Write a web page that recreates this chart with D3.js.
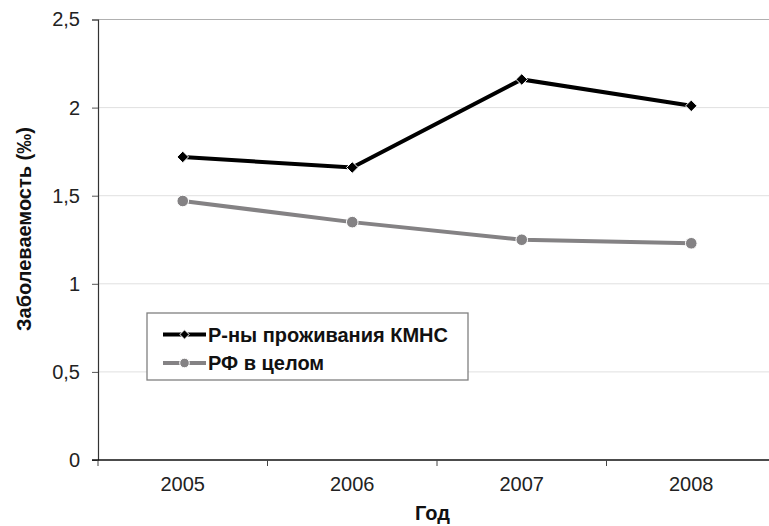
<!DOCTYPE html>
<html><head><meta charset="utf-8">
<script src="https://cdn.jsdelivr.net/npm/d3@7"></script>
<style>body{margin:0;background:#fff}svg{display:block;font-family:"Liberation Sans",Arial,sans-serif}</style>
</head><body>
<script>
const years = ["2005","2006","2007","2008"];
const kmnsValues = [1.72, 1.66, 2.16, 2.01];
const rfValues = [1.47, 1.35, 1.25, 1.23];
const yTicks = [0, 0.5, 1, 1.5, 2, 2.5];
const seriesNames = ["Р-ны проживания КМНС", "РФ в целом"];

(function(){
const W = 769, H = 526;
const svg = d3.select("body").append("svg").attr("width", W).attr("height", H);
const left = 98, plotTop = 19.5, bottom = 460;
const x = d3.scaleBand().domain(years).range([left, left + 4 * 169.5]);
const y = d3.scaleLinear().domain([0, 2.5]).range([bottom, plotTop]);

// gridlines
svg.append("g").selectAll("line").data(yTicks.filter(d => d > 0)).join("line")
  .attr("x1", left).attr("x2", W).attr("y1", d => y(d)).attr("y2", d => y(d))
  .attr("stroke", d => d === 2.5 ? "#b0b0b0" : "#e0e0e0").attr("stroke-width", 1);

// y axis
const ya = svg.append("g").attr("transform", `translate(${left},0)`)
  .call(d3.axisLeft(y).tickValues(yTicks).tickSize(6).tickPadding(12)
    .tickFormat(d => String(d).replace(".", ",")));
ya.select(".domain").attr("stroke", "#333").attr("stroke-width", 1.2);
ya.selectAll(".tick line").attr("stroke", "#555");
ya.selectAll("text").attr("font-size", 20).attr("fill", "#222").attr("font-family", "Liberation Sans, Arial");

// x axis
const xa = svg.append("g").attr("transform", `translate(0,${bottom})`)
  .call(d3.axisBottom(x).tickSize(0).tickPadding(17));
xa.select(".domain").remove();
xa.selectAll("text").attr("font-size", 20).attr("fill", "#222").attr("font-family", "Liberation Sans, Arial");
svg.append("line").attr("x1", left - 6).attr("x2", W).attr("y1", bottom).attr("y2", bottom)
  .attr("stroke", "#111").attr("stroke-width", 1.3);
svg.append("g").selectAll("line").data(years).join("line")
  .attr("x1", d => x(d)).attr("x2", d => x(d)).attr("y1", bottom).attr("y2", bottom + 6)
  .attr("stroke", "#444");

// titles
svg.append("text").attr("x", (left + W) / 2 - 1).attr("y", 520).attr("text-anchor", "middle")
  .attr("font-size", 20).attr("font-weight", "bold").attr("fill", "#111").text("Год");
svg.append("text").attr("transform", `translate(31,229) rotate(-90)`)
  .attr("text-anchor", "middle").attr("font-size", 20).attr("font-weight", "bold").attr("fill", "#111")
  .text("Заболеваемость (‰)");

const cx = d => x(d) + x.bandwidth() / 2;
const line = d3.line().x((d, i) => cx(years[i])).y(d => y(d));

// RF series
svg.append("path").datum(rfValues).attr("d", line).attr("fill", "none")
  .attr("stroke", "#848284").attr("stroke-width", 4);
svg.append("g").selectAll("circle").data(rfValues).join("circle")
  .attr("cx", (d, i) => cx(years[i])).attr("cy", d => y(d)).attr("r", 5.8)
  .attr("fill", "#848284").attr("stroke", "#fff").attr("stroke-width", 1);

// KMNS series
svg.append("path").datum(kmnsValues).attr("d", line).attr("fill", "none")
  .attr("stroke", "#000").attr("stroke-width", 4);
const diamond = d3.symbol().type(d3.symbolDiamond2).size(85);
svg.append("g").selectAll("path").data(kmnsValues).join("path")
  .attr("d", diamond).attr("transform", (d, i) => `translate(${cx(years[i])},${y(d)})`)
  .attr("fill", "#000").attr("stroke", "#fff").attr("stroke-width", 1);

// legend
const lg = svg.append("g");
lg.append("rect").attr("x", 147).attr("y", 313).attr("width", 321).attr("height", 67)
  .attr("fill", "#fff").attr("stroke", "#808080").attr("stroke-width", 1.3);
const rows = [
  {name: seriesNames[0], color: "#000", y: 334.5, mark: "diamond"},
  {name: seriesNames[1], color: "#848284", y: 363, mark: "circle"}
];
rows.forEach(r => {
  lg.append("line").attr("x1", 163).attr("x2", 206).attr("y1", r.y).attr("y2", r.y)
    .attr("stroke", r.color).attr("stroke-width", 4);
  if (r.mark === "diamond") {
    lg.append("path").attr("d", d3.symbol().type(d3.symbolDiamond2).size(55))
      .attr("transform", `translate(184.5,${r.y})`).attr("fill", r.color).attr("stroke", "#fff");
  } else {
    lg.append("circle").attr("cx", 184.5).attr("cy", r.y).attr("r", 4.8)
      .attr("fill", r.color).attr("stroke", "#fff");
  }
  lg.append("text").attr("x", 208).attr("y", r.y + 7).attr("font-size", 20).attr("font-weight", "bold")
    .attr("fill", "#111").text(r.name);
});
})();
</script>
</body></html>
